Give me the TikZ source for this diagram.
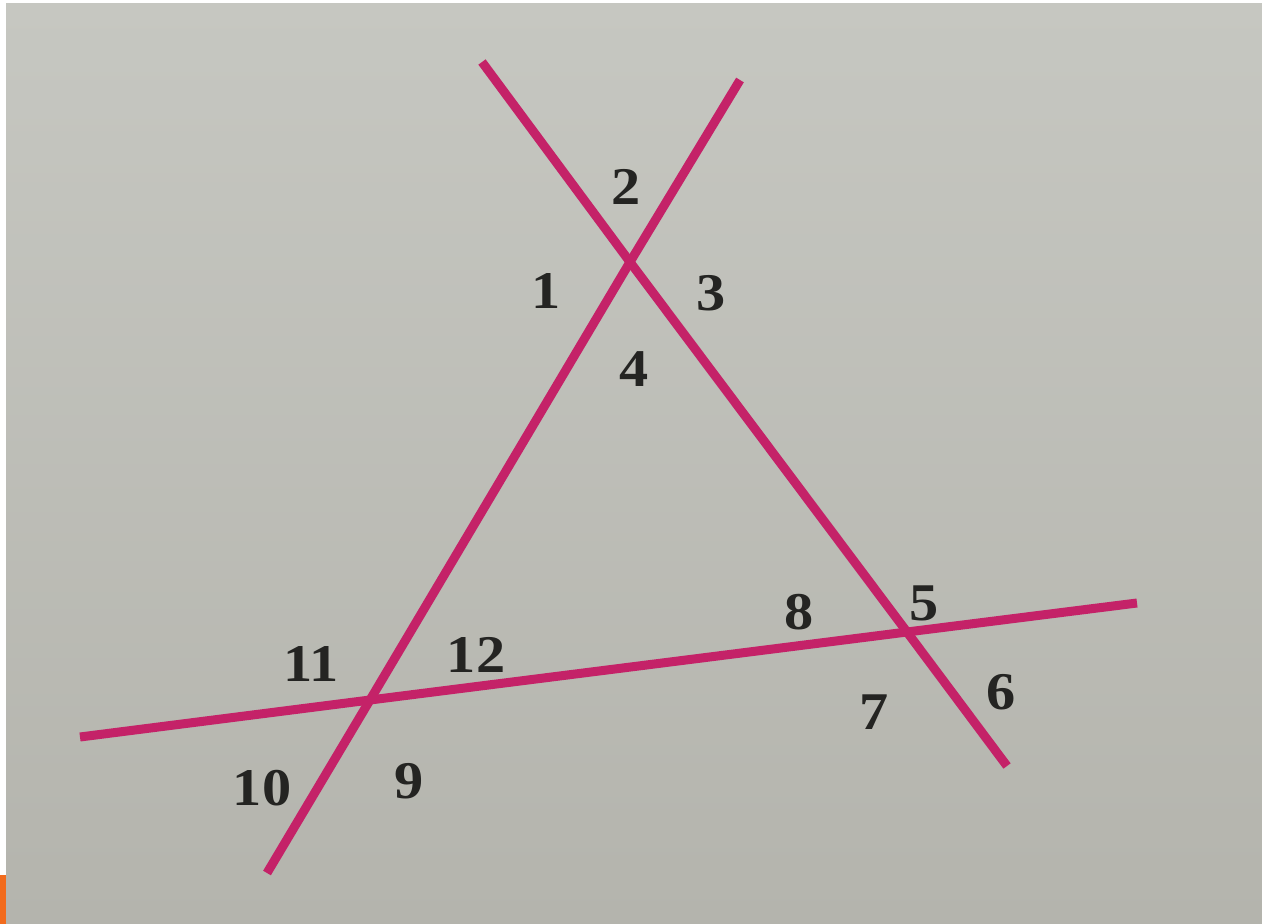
\documentclass[tikz,border=0pt]{standalone}
\usepackage{fontspec}
\setmainfont{Liberation Serif}
\definecolor{bgtop}{RGB}{198,199,193}
\definecolor{bgbot}{RGB}{180,180,173}
\definecolor{linecol}{RGB}{196,34,104}
\definecolor{numcol}{RGB}{36,36,34}
\definecolor{tabcol}{RGB}{242,107,29}
\tikzset{
  geoline/.style={draw=linecol, line width=9pt, line cap=butt},
  anglenum/.style={text=numcol, inner sep=0pt, font=\bfseries\fontsize{53}{53}\selectfont}
}
\newcommand{\wnum}[1]{\scalebox{1.1}[1]{#1}}
\begin{document}
\begin{tikzpicture}[x=1pt, y=-1pt]
\useasboundingbox (0,0) rectangle (1262,924);
\fill[white] (0,0) rectangle (1262,924);
\shade[top color=bgtop, bottom color=bgbot] (6,3) rectangle (1262,924);
\fill[tabcol] (0,875) rectangle (6,924);
% intersections
\coordinate (T) at (630,262);
\coordinate (L) at (370,700);
\coordinate (R) at (907,632);
% line ends
\coordinate (A1) at (482,62);
\coordinate (A2) at (1007,766);
\coordinate (B1) at (740,80);
\coordinate (B2) at (267,873);
\coordinate (C1) at (80,737);
\coordinate (C2) at (1137,603);
\draw[geoline] (A1) -- (T) -- (R) -- (A2);
\draw[geoline] (B1) -- (T) -- (L) -- (B2);
\draw[geoline] (C1) -- (L) -- (R) -- (C2);
% labels
\node[anglenum] (n1) at (546,291) {\wnum{1}};
\node[anglenum] (n2) at (626,187) {\wnum{2}};
\node[anglenum] (n3) at (711,293) {\wnum{3}};
\node[anglenum] (n4) at (634,369) {\wnum{4}};
\node[anglenum] (n5) at (924,603) {\wnum{5}};
\node[anglenum] (n6) at (1001,692) {\wnum{6}};
\node[anglenum] (n7) at (874,712) {\wnum{7}};
\node[anglenum] (n8) at (799,612) {\wnum{8}};
\node[anglenum] (n9) at (409,781) {\wnum{9}};
\node[anglenum] (n10) at (262,788) {\wnum{10}};
\node[anglenum] (n11) at (311,664) {\wnum{11}};
\node[anglenum] (n12) at (476,655) {\wnum{12}};
\end{tikzpicture}
\end{document}
